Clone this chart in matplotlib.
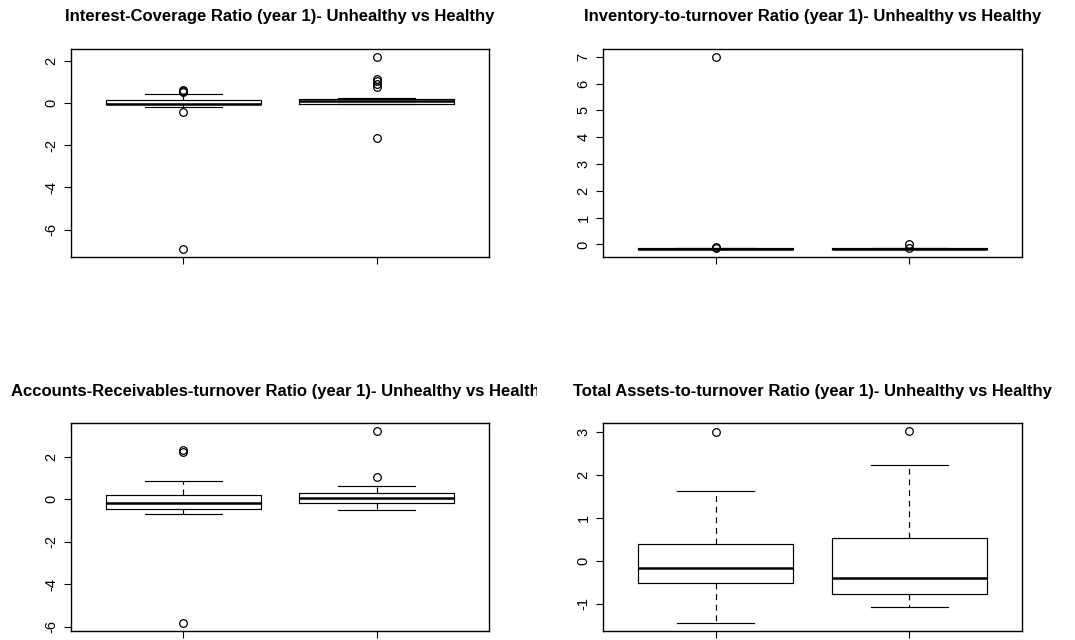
import matplotlib
matplotlib.use("Agg")
import matplotlib.pyplot as plt
from matplotlib.ticker import MultipleLocator
from matplotlib.transforms import Bbox, TransformedBbox

plt.rcParams['font.family'] = ['Liberation Sans', 'DejaVu Sans']
plt.rcParams['axes.unicode_minus'] = False

W, H = 1075, 640
DPI = 100

groups = ["Unhealthy", "Healthy"]

titles = [
    "Interest-Coverage Ratio (year 1)- Unhealthy vs Healthy",
    "Inventory-to-turnover Ratio (year 1)- Unhealthy vs Healthy",
    "Accounts-Receivables-turnover Ratio (year 1)- Unhealthy vs Healthy",
    "Total Assets-to-turnover Ratio (year 1)- Unhealthy vs Healthy",
]

# five-number summaries per panel: [Unhealthy, Healthy]
# (lower whisker, Q1, median, Q3, upper whisker)
icr_stats = [(-0.17, -0.07, -0.04, 0.16, 0.41), (-0.05, -0.03, 0.08, 0.19, 0.25)]
icr_out = [[0.52, 0.56, 0.60, -0.41, -6.93], [2.19, 1.15, 1.05, 0.90, 0.75, -1.67]]

inv_stats = [(-0.18, -0.175, -0.165, -0.15, -0.14), (-0.18, -0.175, -0.165, -0.15, -0.14)]
inv_out = [[-0.10, -0.12, 7.0], [0.03, -0.12]]

arr_stats = [(-0.68, -0.45, -0.17, 0.19, 0.87), (-0.52, -0.17, 0.07, 0.30, 0.60)]
arr_out = [[2.24, 2.32, -5.84], [1.03, 3.22]]

tat_stats = [(-1.45, -0.50, -0.17, 0.41, 1.63), (-1.06, -0.77, -0.39, 0.54, 2.24)]
tat_out = [[3.01], [3.04]]

panels = [
    (icr_stats, icr_out, 2),
    (inv_stats, inv_out, 1),
    (arr_stats, arr_out, 2),
    (tat_stats, tat_out, 1),
]

# axes rectangles in pixels (left, top, right, bottom)
rects = [(71, 49, 489, 257), (603, 49, 1022, 257),
         (71, 423, 489, 631), (603, 423, 1022, 631)]
title_base = [21, 21, 396, 396]
clip_regions = [(0, 537), (537, W), (0, 537), (537, W)]

fig = plt.figure(figsize=(W / DPI, H / DPI), dpi=DPI)

for i, ((stats, outs, step), (l, t, r, b)) in enumerate(zip(panels, rects)):
    ax = fig.add_axes([l / W, 1 - b / H, (r - l) / W, (b - t) / H])
    bxp_stats = []
    for g, s, o in zip(groups, stats, outs):
        bxp_stats.append(dict(label=g, whislo=s[0], q1=s[1], med=s[2], q3=s[3],
                              whishi=s[4], fliers=o))
    ax.bxp(bxp_stats, positions=[1, 2], widths=0.8, capwidths=0.4,
           showfliers=True,
           boxprops=dict(color='black', linewidth=0.85),
           medianprops=dict(color='black', linewidth=1.8, solid_capstyle='butt'),
           whiskerprops=dict(color='black', linewidth=0.85, linestyle=(0, (5, 4))),
           capprops=dict(color='black', linewidth=0.85),
           flierprops=dict(marker='o', markerfacecolor='none', markeredgecolor='black',
                           markersize=5.5, markeredgewidth=0.9))
    vals = []
    for s, o in zip(stats, outs):
        vals.extend(s)
        vals.extend(o)
    lo, hi = min(vals), max(vals)
    pad = 0.04 * (hi - lo)
    ax.set_ylim(lo - pad, hi + pad)
    ax.set_xlim(0.42, 2.58)
    ax.yaxis.set_major_locator(MultipleLocator(step))
    ax.set_xticks([1, 2])
    ax.set_xticklabels(["", ""])
    ax.tick_params(axis='both', direction='out', length=5, width=0.8, color='black')
    ax.tick_params(axis='y', labelsize=10.5, pad=4)
    for lab in ax.get_yticklabels():
        lab.set_rotation(90)
        lab.set_va('center')
    for sp in ax.spines.values():
        sp.set_linewidth(1.0)
        sp.set_color('black')

    cx = (l + r) / 2
    txt = fig.text(cx / W, 1 - title_base[i] / H, titles[i], ha='center', va='baseline',
                   fontsize=12, fontweight='bold', color='black')
    x0, x1 = clip_regions[i]
    txt.set_clip_box(TransformedBbox(Bbox([[x0 / W, 0], [x1 / W, 1]]), fig.transFigure))
    txt.set_clip_on(True)

fig.savefig("out.png", dpi=DPI)
